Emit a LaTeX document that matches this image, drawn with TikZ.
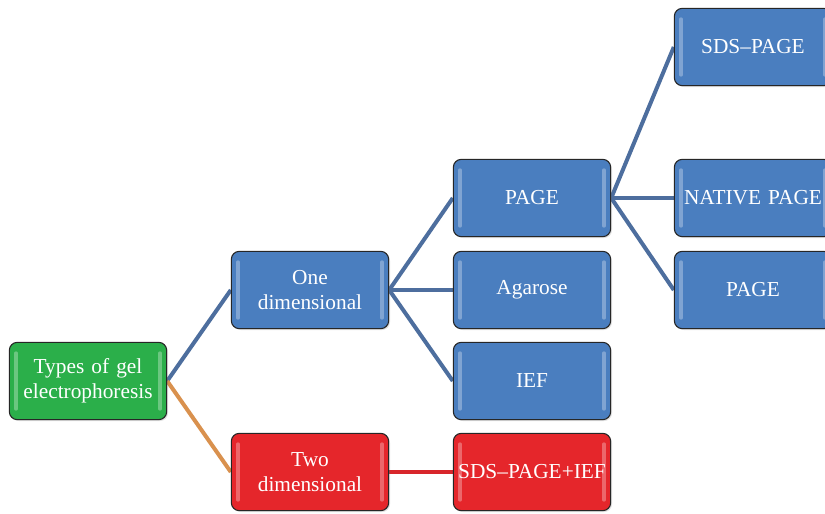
\documentclass[tikz,border=0pt]{standalone}
\usepackage{fontspec}
\setmainfont{Liberation Serif}
\usetikzlibrary{shadows,backgrounds}

\definecolor{gelblue}{HTML}{4A7EBF}
\definecolor{gelgreen}{HTML}{2BAF4A}
\definecolor{gelred}{HTML}{E5262B}
\definecolor{linkblue}{HTML}{4D6E9E}
\definecolor{linkorange}{HTML}{D9914E}
\definecolor{linkred}{HTML}{D8262B}

\begin{document}
\begin{tikzpicture}[x=0.75pt,y=-0.75pt,
    gelbox/.style={draw=black!85,line width=0.8pt,rounded corners=6pt,
      minimum width=118pt,minimum height=58pt,text width=118pt,inner sep=0pt,
      align=center,text=white,font=\fontsize{16}{19}\selectfont,
      drop shadow={opacity=0.25,shadow xshift=1pt,shadow yshift=-1pt},
      path picture={
        \draw[white,opacity=0.3,line width=2.5pt,line cap=round]
          ([xshift=5pt,yshift=-8pt]path picture bounding box.north west) --
          ([xshift=5pt,yshift=8pt]path picture bounding box.south west);
        \draw[white,opacity=0.3,line width=2.5pt,line cap=round]
          ([xshift=-5pt,yshift=-8pt]path picture bounding box.north east) --
          ([xshift=-5pt,yshift=8pt]path picture bounding box.south east);
      }},
    bluebox/.style={gelbox,fill=gelblue},
    link/.style={line width=3pt,draw=linkblue}]
  \useasboundingbox (0,0) rectangle (825,514);

  % root and first level
  \node[gelbox,fill=gelgreen] (types) at (88,381) {Types of gel\\electrophoresis};
  \node[bluebox] (onedim) at (310,290) {One\\dimensional};
  \node[gelbox,fill=gelred] (twodim) at (310,472) {Two\\dimensional};

  % second level
  \node[bluebox] (page) at (532,198) {PAGE};
  \node[bluebox] (agarose) at (532,290) {Agarose};
  \node[bluebox] (ief) at (532,381) {IEF};
  \node[gelbox,fill=gelred] (sdsief) at (532,472) {SDS--PAGE+IEF};

  % third level
  \node[bluebox] (sdspage) at (753,47) {SDS--PAGE};
  \node[bluebox] (native) at (753,198) {NATIVE PAGE};
  \node[bluebox] (page2) at (753,290) {PAGE};

  \begin{pgfonlayer}{background}
    \draw[link] (types.east) -- (onedim.west);
    \draw[link,draw=linkorange] (types.east) -- (twodim.west);
    \draw[link,draw=linkred] (twodim.east) -- (sdsief.west);
    \foreach \child in {page,agarose,ief}
      \draw[link] (onedim.east) -- (\child.west);
    \foreach \child in {sdspage,native,page2}
      \draw[link] (page.east) -- (\child.west);
  \end{pgfonlayer}
\end{tikzpicture}
\end{document}
